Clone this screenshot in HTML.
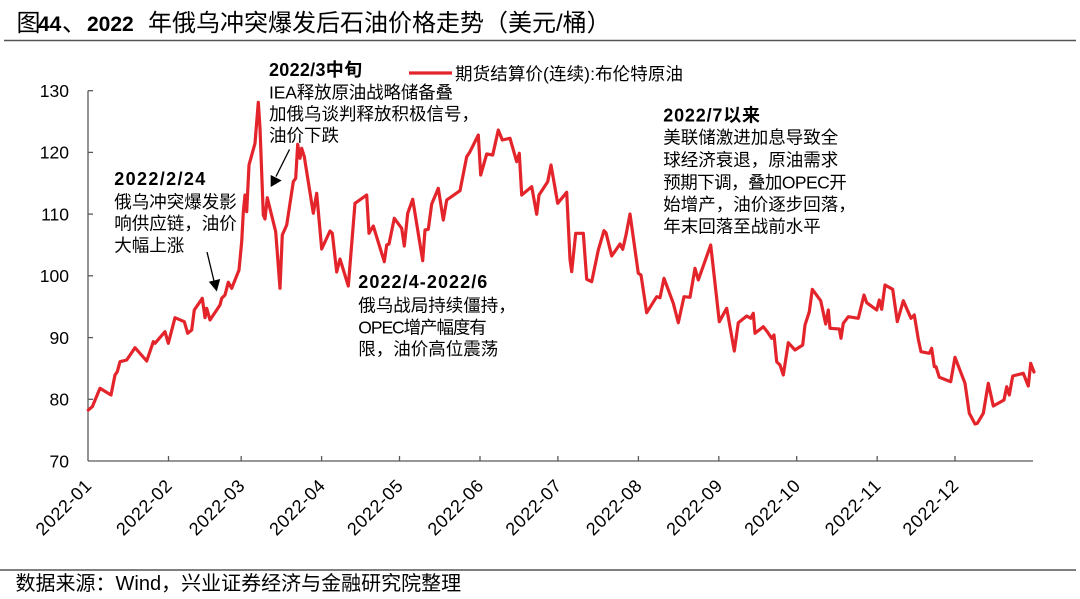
<!DOCTYPE html>
<html>
<head>
<meta charset="utf-8">
<style>
  html,body{margin:0;padding:0;background:#fff;}
  svg{display:block;}
  text{font-family:"Liberation Sans","Noto Sans CJK SC",sans-serif;fill:#000;}
</style>
</head>
<body>
<svg width="1080" height="599" viewBox="0 0 1080 599" xmlns="http://www.w3.org/2000/svg">
  <!-- Title -->
  <text x="16.5" y="31" font-size="24">图</text>
  <text x="38" y="31" font-size="21" font-weight="bold">44</text>
  <text x="62" y="31" font-size="24">、</text>
  <text x="87" y="31" font-size="21" font-weight="bold">2022</text>
  <text x="148" y="31" font-size="24">年俄乌冲突爆发后石油价格走势</text>
  <text x="484" y="31" font-size="24">（美元/桶）</text>
  <line x1="4" y1="40.5" x2="1076" y2="40.5" stroke="#555" stroke-width="1.6"/>

  <!-- Axes -->
  <g stroke="#595959" stroke-width="1.3" fill="none">
    <line x1="88" y1="90.7" x2="88" y2="461"/>
    <line x1="88" y1="461" x2="1033" y2="461"/>
    <!-- y ticks -->
    <line x1="88" y1="90.7" x2="93" y2="90.7"/>
    <line x1="88" y1="152.4" x2="93" y2="152.4"/>
    <line x1="88" y1="214.1" x2="93" y2="214.1"/>
    <line x1="88" y1="275.8" x2="93" y2="275.8"/>
    <line x1="88" y1="337.6" x2="93" y2="337.6"/>
    <line x1="88" y1="399.3" x2="93" y2="399.3"/>
    <!-- x ticks -->
    <line x1="168.5" y1="461" x2="168.5" y2="456"/>
    <line x1="241.2" y1="461" x2="241.2" y2="456"/>
    <line x1="321.6" y1="461" x2="321.6" y2="456"/>
    <line x1="399.5" y1="461" x2="399.5" y2="456"/>
    <line x1="480" y1="461" x2="480" y2="456"/>
    <line x1="557.9" y1="461" x2="557.9" y2="456"/>
    <line x1="638.4" y1="461" x2="638.4" y2="456"/>
    <line x1="718.8" y1="461" x2="718.8" y2="456"/>
    <line x1="796.7" y1="461" x2="796.7" y2="456"/>
    <line x1="877.2" y1="461" x2="877.2" y2="456"/>
    <line x1="955" y1="461" x2="955" y2="456"/>
  </g>

  <!-- y labels -->
  <g font-size="17.5" text-anchor="end">
    <text x="69" y="97">130</text>
    <text x="69" y="158.7">120</text>
    <text x="69" y="220.4">110</text>
    <text x="69" y="282.1">100</text>
    <text x="69" y="343.9">90</text>
    <text x="69" y="405.6">80</text>
    <text x="69" y="467.3">70</text>
  </g>

  <!-- x labels -->
  <g font-size="18" text-anchor="end">
    <text x="92.5" y="487" transform="rotate(-45 92.5 487)" textLength="70">2022-01</text>
    <text x="173" y="487" transform="rotate(-45 173 487)" textLength="70">2022-02</text>
    <text x="245.7" y="487" transform="rotate(-45 245.7 487)" textLength="70">2022-03</text>
    <text x="326.1" y="487" transform="rotate(-45 326.1 487)" textLength="70">2022-04</text>
    <text x="404" y="487" transform="rotate(-45 404 487)" textLength="70">2022-05</text>
    <text x="484.5" y="487" transform="rotate(-45 484.5 487)" textLength="70">2022-06</text>
    <text x="562.4" y="487" transform="rotate(-45 562.4 487)" textLength="70">2022-07</text>
    <text x="642.9" y="487" transform="rotate(-45 642.9 487)" textLength="70">2022-08</text>
    <text x="723.3" y="487" transform="rotate(-45 723.3 487)" textLength="70">2022-09</text>
    <text x="801.2" y="487" transform="rotate(-45 801.2 487)" textLength="70">2022-10</text>
    <text x="881.7" y="487" transform="rotate(-45 881.7 487)" textLength="70">2022-11</text>
    <text x="959.5" y="487" transform="rotate(-45 959.5 487)" textLength="70">2022-12</text>
  </g>

  <!-- Series -->
  <polyline fill="none" stroke="#e3252b" stroke-width="3.2" stroke-linejoin="round" stroke-linecap="round" points="
88.3,410 92.3,406.7 100,388.3 111,395 115,375 117.3,371.7 120,361.7 126.7,360 135,347.7 146.7,361 153.3,341.7 155,343.3 165,331.7 168.3,343.3 175,317.7 184.3,321.7 187.7,333.3 191.7,330 194.3,310 202.3,298.3 205,317.7 206.7,308.3 210,320 220,305 221.7,298.3 225,295 228.3,282.3 231.7,288.3 239,270 241.7,241.7 243.3,212.3 245,195 246.7,211.7 249,165 255,143.3 258.3,102.3 260,128 263.3,215 265,219 267.3,197.7 275.7,231.7 280,288.3 282.3,235 286.7,225 293.3,181.7 295.7,178.3 297.7,144.3 300,158.3 301.7,148.3 304.3,156.7 313.3,213.3 316.7,193.3 321.7,249 330,231 332.3,233.3 336.7,272 340,259 348.3,286 355,203.3 366.7,195 369,233.3 373.3,226 384.3,261.7 386.7,245 389,244 394.3,218.3 401.7,228.3 404.3,246 407.7,213.3 412.7,199.3 422.7,260.7 425,230 428.3,229.3 431.7,204 438.3,188.3 443.3,220 446.7,200 460,190.7 466.7,156.7 470,151.7 478.3,135 480.7,175 486.7,154 492.7,155 498.3,130 502.3,140 510,138.3 516.7,161.7 519.3,153.3 521.7,195 531.7,186.7 536.7,214.3 539,195 547.7,181.7 551,165 557.7,203.3 566.7,192.3 570,259.3 571.7,271.7 575.7,233.3 583.3,233.3 586.7,279.3 591.7,281.7 598.3,250 604,230.7 606,232.7 611.7,256 620,244 622.7,249.3 626,235 630,214 638.3,273.3 641,275 646.7,312.7 656.7,296.7 660,297.7 664,278.3 673.3,303.3 678.3,322.7 684,296.7 690,297.3 695,268.3 698.3,280 710.7,245 719.3,321.7 726.7,308.3 734.3,351 738.3,322.7 746.7,316 750.7,318.3 753.3,313.3 755,333.3 763.3,326.7 767.3,331.7 771.7,338.3 774,335 776.7,361.7 780,365 783.3,375 788.3,342.7 795,350 802.7,345 805,325 809.3,311.7 812.3,289.3 820.7,300.7 825.7,324 828.3,310 830,328.3 839.3,329 841,338.3 843.3,323.3 848.3,316.7 858.3,318.3 864,295 866.7,302.7 876.7,310 879.3,300 881.7,309.3 885,285 892.7,289.3 897.3,321.7 903.3,300.7 911,318.3 914.3,315 918.3,339.3 921,351.7 929.3,353.3 931.7,348.3 934.3,366.7 936,366.7 939.3,377.3 950.7,381.7 955,357.3 965,383.3 969.3,413.3 975,424 977.3,423.3 983.3,413.3 988.3,383.3 993.3,406 1004,400 1006.7,386.7 1009.3,395 1012.7,376 1023.3,373.3 1028.3,386 1030.7,363.3 1034,372"/>

  <!-- Legend -->
  <line x1="409" y1="73" x2="452" y2="73" stroke="#e3252b" stroke-width="3.2"/>
  <text x="455" y="80" font-size="17.5" textLength="228">期货结算价(连续):布伦特原油</text>

  <!-- Annotation 2022/3 -->
  <text x="269" y="76" font-size="18" font-weight="bold" textLength="93">2022/3中旬</text>
  <g font-size="17.5">
    <text x="269" y="98.3" textLength="184">IEA释放原油战略储备叠</text>
    <text x="269" y="120">加俄乌谈判释放积极信号，</text>
    <text x="269" y="141.5">油价下跌</text>
  </g>

  <!-- Annotation 2022/2/24 -->
  <text x="114.3" y="185" font-size="18" font-weight="bold" textLength="91">2022/2/24</text>
  <g font-size="17.5">
    <text x="114.3" y="208">俄乌冲突爆发影</text>
    <text x="114.3" y="229.7">响供应链，油价</text>
    <text x="114.3" y="251.3">大幅上涨</text>
  </g>

  <!-- Annotation 2022/4-2022/6 -->
  <text x="358.3" y="288" font-size="18" font-weight="bold" textLength="129">2022/4-2022/6</text>
  <g font-size="17.5">
    <text x="358.3" y="311.5">俄乌战局持续僵持，</text>
    <text x="358.3" y="333.3" textLength="128.5">OPEC增产幅度有</text>
    <text x="358.3" y="355">限，油价高位震荡</text>
  </g>

  <!-- Annotation 2022/7 -->
  <text x="663.3" y="121.7" font-size="18" font-weight="bold" textLength="96.7">2022/7以来</text>
  <g font-size="17.5">
    <text x="663.3" y="143.5">美联储激进加息导致全</text>
    <text x="663.3" y="166">球经济衰退，原油需求</text>
    <text x="663.3" y="188.3" textLength="183.4">预期下调，叠加OPEC开</text>
    <text x="663.3" y="210.5">始增产，油价逐步回落，</text>
    <text x="663.3" y="232.5">年末回落至战前水平</text>
  </g>

  <!-- Arrows -->
  <line x1="207" y1="252" x2="214" y2="281" stroke="#000" stroke-width="1.3"/>
  <polygon points="216.8,291.5 208.8,281.8 220.2,279" fill="#000"/>
  <line x1="289.5" y1="149.5" x2="276" y2="176.5" stroke="#000" stroke-width="1.3"/>
  <polygon points="270.7,187 270.7,175 281.7,180.5" fill="#000"/>

  <!-- Footer -->
  <line x1="0" y1="570" x2="1076" y2="570" stroke="#333" stroke-width="1.3"/>
  <text x="15.5" y="590" font-size="20">数据来源：Wind，兴业证券经济与金融研究院整理</text>
</svg>
</body>
</html>
